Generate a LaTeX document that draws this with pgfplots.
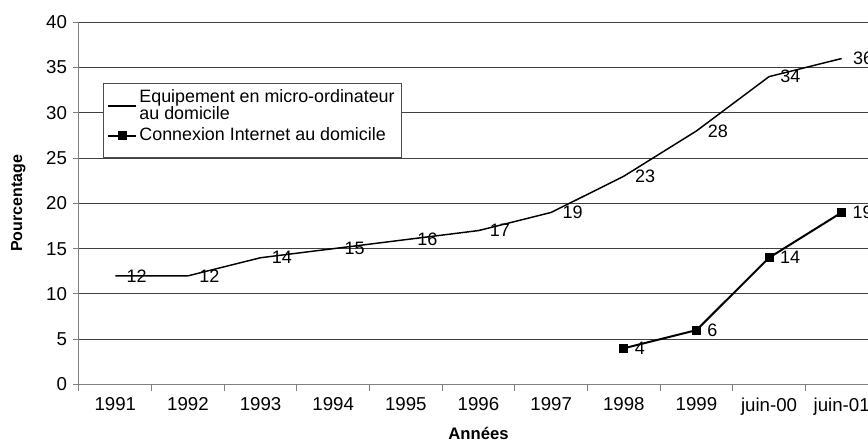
\documentclass[border=0pt]{standalone}
\usepackage{pgfplots}
\pgfplotsset{compat=1.18}
\usepackage{fontspec}
\setmainfont{Liberation Sans}
\begin{document}
\fontsize{13}{13.5}\selectfont
\begin{tikzpicture}[x=0.75pt,y=0.75pt]
\useasboundingbox (-79,-58.5) rectangle (789,384.5);
\clip (-79,-58.5) rectangle (789,384.5);
\begin{axis}[
  scale only axis, width=599.25pt, height=271.65pt,
  xmin=-0.5, xmax=10.5, ymin=0, ymax=40,
  axis lines*=left,
  ytick={0,5,...,40},
  xtick={0,...,10},
  xticklabels={1991,1992,1993,1994,1995,1996,1997,1998,1999,juin-00,juin-01},
  minor xtick={-0.5,0.5,...,10.5},
  major x tick style={draw=none},
  tick align=outside, major tick length=4.5pt, minor tick length=4.5pt,
  ymajorgrids, grid style={black!75, line width=0.75pt},
  axis line style={black!50, line width=0.75pt},
  tick style={black!50, line width=0.75pt},
  tick label style={font=\fontsize{14}{14.5}\selectfont},
  xticklabel style={yshift=-1pt},
  /pgf/number format/assume math mode=true,
  xlabel={\textbf{Années}}, ylabel={\textbf{Pourcentage}},
  xlabel style={at={(axis description cs:0.5,-0.1530)}, anchor=base, inner sep=0pt, font=\fontsize{12.5}{13}\selectfont},
  ylabel style={at={(axis description cs:-0.0713,0.5)}, anchor=base, inner sep=0pt, font=\fontsize{12}{13}\selectfont},
  nodes near coords,
  every node near coord/.style={anchor=west, inner sep=0pt, xshift=8pt, font=\fontsize{13.5}{14}\selectfont, text=black},
  legend style={at={(0.030,0.8316)}, anchor=north west, draw=black!70, fill=white,
    line width=0.75pt, font=\fontsize{13.4}{12.8}\selectfont,
    cells={anchor=west, align=left}, inner xsep=3pt, inner ysep=2.5pt},
  legend image code/.code={\draw[mark repeat=2,mark phase=2] plot coordinates {(0cm,0cm) (0.36cm,0cm) (0.72cm,0cm)};},
  clip=false,
]
\addplot[black, line width=1.1pt, mark=none] coordinates {
(0,12) (1,12) (2,14) (3,15) (4,16) (5,17) (6,19) (7,23) (8,28) (9,34) (10,36)};
\addlegendentry{Equipement en micro-ordinateur\\au domicile}
\addplot[black, line width=1.5pt, mark=square*, mark size=3pt, mark options={solid, line width=0.5pt}] coordinates {
(7,4) (8,6) (9,14) (10,19)};
\addlegendentry{Connexion Internet au domicile}
\addlegendimage{empty legend}
\addlegendentry{}
\end{axis}
\end{tikzpicture}
\end{document}
